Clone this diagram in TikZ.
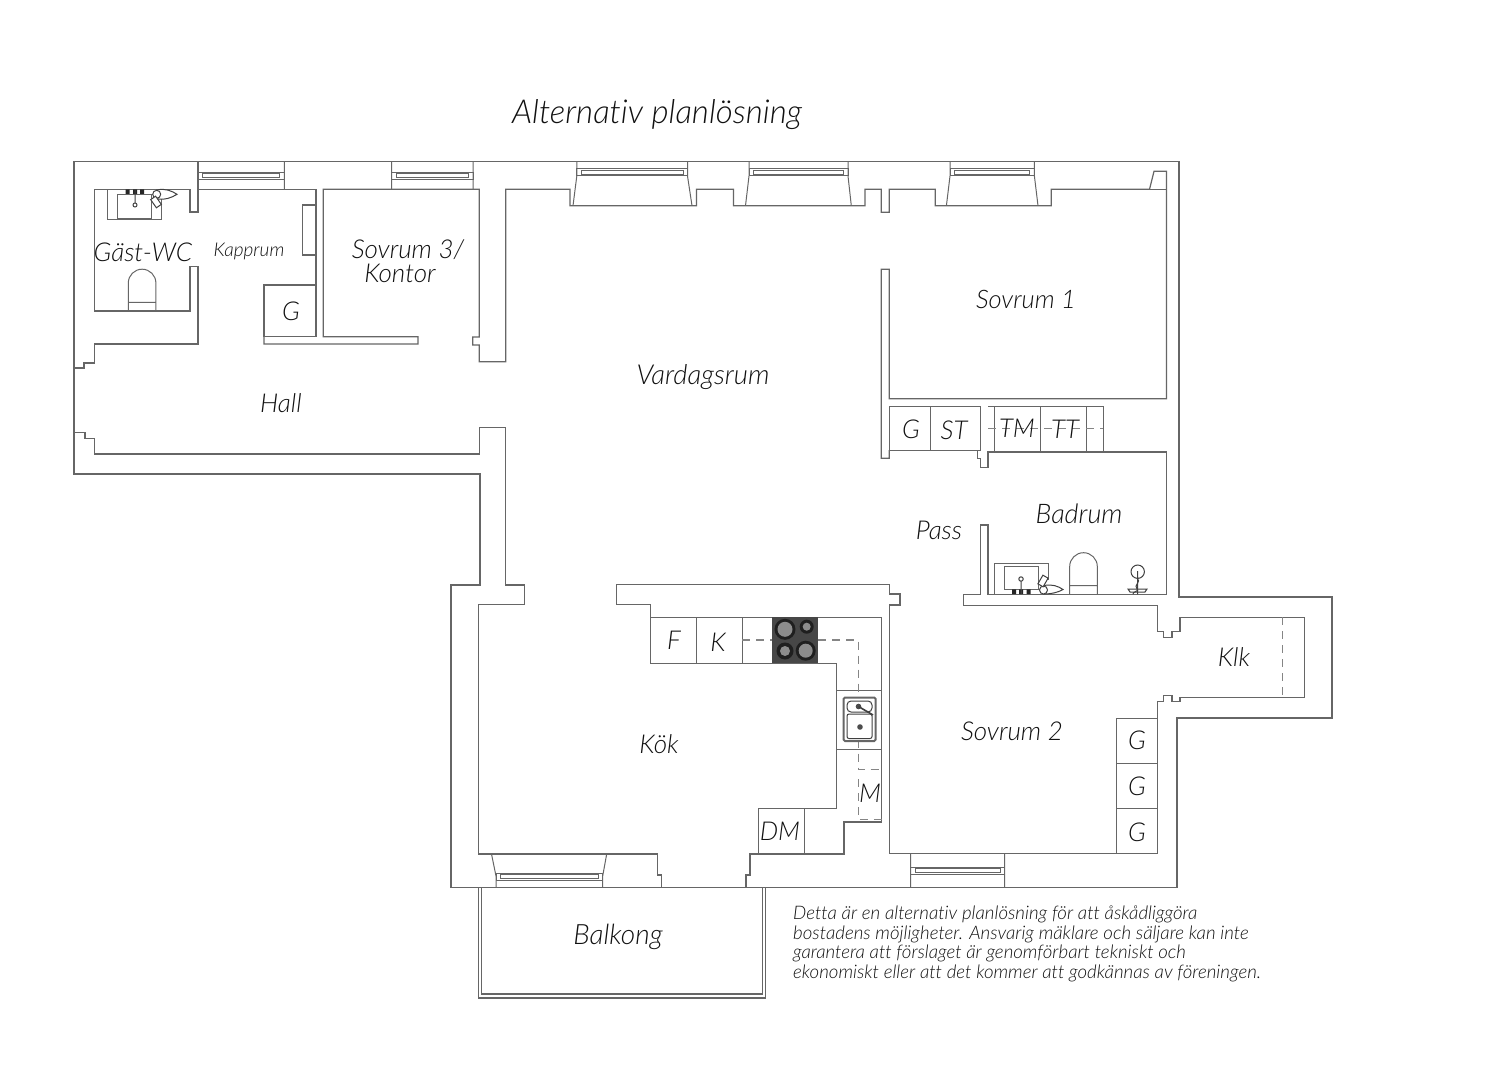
\documentclass[tikz,border=0pt]{standalone}
\usepackage{fontspec}
\setmainfont{Lato}[ItalicFont={Lato Light Italic}, Ligatures=CommonOff]
\definecolor{wallgray}{HTML}{666666}
\definecolor{inkgray}{HTML}{111111}
\tikzset{
  wall/.style={draw=wallgray, line width=1.25pt, line join=miter},
  thinline/.style={draw=wallgray, line width=1pt},
  fixture/.style={draw=black!75, line width=1pt},
  hidden/.style={draw=wallgray!80, line width=1.1pt, dash pattern=on 8pt off 6pt},
  room/.style={text=inkgray, font=\fontsize{26}{30}\itshape\selectfont, inner sep=0pt},
  small/.style={text=inkgray, font=\fontsize{19}{22}\itshape\selectfont, inner sep=0pt}
}
\begin{document}
\begin{tikzpicture}[x=1pt, y=-1pt]
  \useasboundingbox (0,0) rectangle (1500,1078);
  \fill[white] (0,0) rectangle (1500,1078);
  % outer walls
  \draw[wall] (74,161.5) -- (1179,161.5) -- (1179,597) -- (1332,597) -- (1332,718) -- (1177,718)
    -- (1177,887.5) -- (451,887.5) -- (451,585) -- (480,585) -- (480,474) -- (74,474) -- cycle;
  % hall, wc and kapprum
  \draw[wall] (74,368) -- (84,368) -- (84,363) -- (94.3,363) -- (94.3,344) -- (198,344) -- (198,266.5)
    -- (190,266.5) -- (190,311) -- (94.3,311) -- (94.3,189.3) -- (190,189.3) -- (190,212) -- (198,212) -- (198,161.5);
  \draw[wall] (198,189.3) -- (316,189.3) -- (316,336.7) -- (264,336.7) -- (264,285) -- (316,285);
  \draw[wall] (264,336.7) -- (264,344) -- (418,344) -- (418,336.7) -- (323.3,336.7) -- (323.3,189.3)
    -- (479.3,189.3) -- (479.3,337) -- (472.7,337) -- (472.7,345) -- (479.3,345) -- (479.3,361.7)
    -- (505.7,361.7) -- (505.7,189.3) -- (570,189.3) -- (570,205.7) -- (696.4,205.7) -- (696.4,189.3)
    -- (733.5,189.3) -- (733.5,205.7) -- (865,205.7) -- (865,189.3) -- (881.3,189.3) -- (881.3,212.3)
    -- (889.3,212.3) -- (889.3,189.3) -- (935.3,189.3) -- (935.3,205.7) -- (1051.3,205.7) -- (1051.3,189.3)
    -- (1149.5,189.3) -- (1154,171.3) -- (1166.5,171.3) -- (1166.5,398.7) -- (889.3,398.7) -- (889.3,269.3)
    -- (881.3,269.3) -- (881.3,458.3) -- (889.3,458.3) -- (889.3,450);
  \draw[wall] (1149.5,189.3) -- (1166.5,189.3);
  \draw[wall] (74,432.3) -- (85,432.3) -- (85,438.3) -- (94.3,438.3) -- (94.3,454) -- (479.3,454) -- (479.3,427.5)
    -- (505.5,427.5) -- (505.5,585) -- (524.3,585) -- (524.3,604.3) -- (478.3,604.3) -- (478.3,854)
    -- (657.7,854) -- (657.7,875) -- (661.7,875) -- (661.7,887.5);
  % kitchen, pass, badrum, klk
  \draw[wall] (746,887.5) -- (746,875) -- (750,875) -- (750,854) -- (844,854) -- (844,822) -- (881.7,822)
    -- (881.7,617.3) -- (650.7,617.3) -- (650.7,604.3) -- (616.7,604.3) -- (616.7,584.7) -- (889.3,584.7)
    -- (889.3,594) -- (900,594) -- (900,605) -- (889.3,605) -- (889.3,853.3) -- (1157.3,853.3) -- (1157.3,701.7)
    -- (1163.3,701.7) -- (1163.3,695.7) -- (1172,695.7) -- (1172,701.7) -- (1180,701.7) -- (1180,697.7)
    -- (1304.7,697.7) -- (1304.7,617.3) -- (1180,617.3) -- (1180,631.7) -- (1172,631.7) -- (1172,637.3)
    -- (1163.3,637.3) -- (1163.3,631.7) -- (1157.3,631.7) -- (1157.3,605.7) -- (963.7,605.7) -- (963.7,594.3)
    -- (980.7,594.3) -- (980.7,525) -- (988,525) -- (988,594.3) -- (1166.7,594.3) -- (1166.7,452) -- (988,452)
    -- (988,467.3) -- (980.7,467.3) -- (980.7,458.3) -- (977.7,458.3) -- (977.7,450);
  % windows
  \draw[thinline] (284.3,161.5) -- (284.3,189.3) (391.7,161.5) -- (391.7,189.3) (473,161.5) -- (473,189.3)
    (576.8,161.5) -- (576.8,176) -- (573,205.7) (687.5,161.5) -- (687.5,176) -- (692,205.7)
    (749,161.5) -- (749,176) -- (745.5,205.7) (848,161.5) -- (848,176) -- (851.3,205.7)
    (950,161.5) -- (950,176) -- (946.4,205.7) (1034.4,161.5) -- (1034.4,176) -- (1038,205.7)
    (491.5,854) -- (496,876) -- (496,887.5) (606.7,854) -- (602.7,876) -- (602.7,887.5)
    (910.7,853.3) -- (910.7,887.5) (1004.7,853.3) -- (1004.7,887.5);
  \foreach \xa/\xb/\ya in {198/284.3/172.3, 391.7/473/172.3, 576.8/687.5/169, 749/848/169, 950/1034.4/169, 496/602.7/873, 910.7/1004.7/867} {
    \draw[thinline] (\xa,\ya) rectangle (\xb,\ya+7);
    \draw[thinline] (\xa+4.5,\ya+1.5) rectangle (\xb-4.5,\ya+5.5);
  }
  % balcony
  \draw[wall] (478.3,887.5) -- (478.3,998) -- (765.3,998) -- (765.3,887.5);
  \draw[wall] (481.7,887.5) -- (481.7,994) -- (762.3,994) -- (762.3,887.5);
  % closets and cabinets
  \draw[wall] (302.7,205) rectangle (316,255);
  \draw[thinline] (889.3,406) rectangle (980.3,450) (930.7,406) -- (930.7,450);
  \draw[thinline] (988,406) -- (1103.3,406) -- (1103.3,452) (994,406) -- (994,452);
  \foreach \xa in {1040,1086} {
    \draw[thinline] (\xa,406) -- (\xa,452);
  }
  \draw[hidden] (988,428.7) -- (1103.3,428.7);
  \draw[hidden] (1282.3,617.3) -- (1282.3,697.7);
  \draw[thinline] (1116.7,853.3) -- (1116.7,718.3) -- (1157.3,718.3) (1116.7,763.3) -- (1157.3,763.3) (1116.7,808.3) -- (1157.3,808.3);
  % kitchen units
  \draw[thinline] (650.7,617.3) -- (650.7,663) -- (836,663) -- (836,808) -- (758.3,808) -- (758.3,854)
    (804.3,808) -- (804.3,854) (696.3,617.3) -- (696.3,663) (742.3,617.3) -- (742.3,663)
    (836,690) -- (881.7,690) (836,749) -- (881.7,749);
  \draw[hidden] (742.3,640) -- (772,640);
  \draw[hidden] (818,640) -- (858.3,640) -- (858.3,769.3) -- (881.7,769.3);
  \draw[hidden] (858.3,779) -- (858.3,819.5) -- (881.7,819.5);
  \fill[black!72] (772,617.3) rectangle (818,663);
  \foreach \cx/\cy/\ro/\ri in {785/629.3/10.5/7.5, 806.7/626.7/7/4, 785/651/8.5/5, 805.7/650.7/10/7} {
    \fill[black!88] (\cx,\cy) circle (\ro);
    \fill[black!45] (\cx,\cy) circle (\ri);
  }
  \draw[draw=black!60, line width=2pt, fill=white, rounded corners=1.5pt] (843.5,697.5) rectangle (875.7,741);
  \draw[fixture, rounded corners=4pt] (847,701) rectangle (872,712);
  \draw[fixture, rounded corners=2pt] (847,714) rectangle (872,738.5);
  \fill[black!70] (858.5,706.5) circle (2.8) (860,727) circle (2.8);
  \draw[fixture, line width=1.6pt] (858.5,706.5) -- (873,715);
  % gast-wc fixtures
  \draw[thinline] (107.7,189.3) -- (107.7,220) -- (161.7,220) -- (161.7,189.3);
  \draw[thinline] (117.7,195) rectangle (151.7,218.3);
  \fill[black!85] (125.7,189.3) rectangle (129.7,194) (133,189.3) rectangle (137,194) (140,189.3) rectangle (144,194);
  \draw[fixture] (135,190) -- (135,203) (135,205) circle (2);
  \draw[fixture, fill=white] (157,190) .. controls (165,188) and (172,191) .. (177,194.3) .. controls (171,198) and (165,200) .. (158,199) -- cycle;
  \draw[fixture, fill=white] (156.7,194.3) circle (4);
  \draw[fixture, fill=white, rotate around={35:(156,202)}] (153,197) rectangle (159,207);
  \draw[thinline] (128.3,311) -- (128.3,283) arc (180:360:13.8) -- (155.9,311) (128.3,302.3) -- (155.9,302.3);
  % badrum fixtures
  \draw[thinline] (994.3,594.3) -- (994.3,563.7) -- (1048.3,563.7) -- (1048.3,580);
  \draw[thinline] (1004,566.3) rectangle (1038.7,589);
  \fill[black!85] (1012,589.3) rectangle (1016,594) (1019,589.3) rectangle (1023,594) (1026.5,589.3) rectangle (1030.5,594);
  \draw[fixture, fill=white] (1021,594) -- (1021,581) (1021,579) circle (2.2);
  \draw[fixture, fill=white] (1044,585.5) .. controls (1052,584) and (1058,586) .. (1063,589.5) .. controls (1058,592.5) and (1051,594) .. (1044,594) -- cycle;
  \draw[fixture, fill=white] (1043.5,590) circle (4);
  \draw[fixture, fill=white, rotate around={-30:(1043,581)}] (1040,576) rectangle (1046,586);
  \draw[thinline] (1069.7,594.3) -- (1069.7,566.5) arc (180:360:13.8) -- (1097.3,594.3) (1069.7,585.7) -- (1097.3,585.7);
  \draw[fixture] (1137.7,571.7) circle (6.7) (1137.7,571) -- (1137.7,594.3);
  \draw[fixture] (1137,578) .. controls (1142,582) and (1133,585) .. (1137,589) .. controls (1140,591) and (1132,592) .. (1133,594);
  \draw[fixture] (1128,589) -- (1147,589) -- (1145,592) -- (1130,592) -- cycle;
  % labels
  \node[room, font=\fontsize{33}{36}\itshape\selectfont] (title) at (657,114.5) {Alternativ planlösning};
  \node[room] (gastwc) at (143,252) {Gäst-WC};
  \node[small] (kapprum) at (249,251) {Kapprum};
  \node[room] (sovrumtre) at (408,250) {Sovrum 3/};
  \node[room] (kontor) at (400,273) {Kontor};
  \node[room] (gkapp) at (291,311) {G};
  \node[room] (hall) at (281,403) {Hall};
  \node[room, font=\fontsize{27.5}{30}\itshape\selectfont] (vardagsrum) at (703,377) {Vardagsrum};
  \node[room, font=\fontsize{25.5}{30}\itshape\selectfont] (sovrumett) at (1026,299) {Sovrum 1};
  \node[room] (gpass) at (911,429) {G};
  \node[room] (st) at (954,430) {ST};
  \node[room] (tm) at (1017,428) {TM};
  \node[room] (tt) at (1065,429) {TT};
  \node[room] (pass) at (939,530) {Pass};
  \node[room, font=\fontsize{27}{30}\itshape\selectfont] (badrum) at (1079,514) {Badrum};
  \node[room] (klk) at (1234,657) {Klk};
  \node[room] (f) at (674,640) {F};
  \node[room] (k) at (718,642) {K};
  \node[room] (kok) at (659,744) {Kök};
  \node[room] (m) at (870,793) {M};
  \node[room] (dm) at (780,831) {DM};
  \node[room] (sovrumtva) at (1012,731) {Sovrum 2};
  \node[room] (gett) at (1137,740) {G};
  \node[room] (gtva) at (1137,786) {G};
  \node[room] (gtre) at (1137,832) {G};
  \node[room, font=\fontsize{28}{30}\itshape\selectfont] (balkong) at (618,936.5) {Balkong};
  \node[small, font=\fontsize{18.7}{19.6}\itshape\selectfont, anchor=north west, align=left] (note) at (793,905.5)
    {Detta är en alternativ planlösning för att åskådliggöra\\
     bostadens möjligheter. Ansvarig mäklare och säljare kan inte\\
     garantera att förslaget är genomförbart tekniskt och\\
     ekonomiskt eller att det kommer att godkännas av föreningen.};
\end{tikzpicture}
\end{document}
